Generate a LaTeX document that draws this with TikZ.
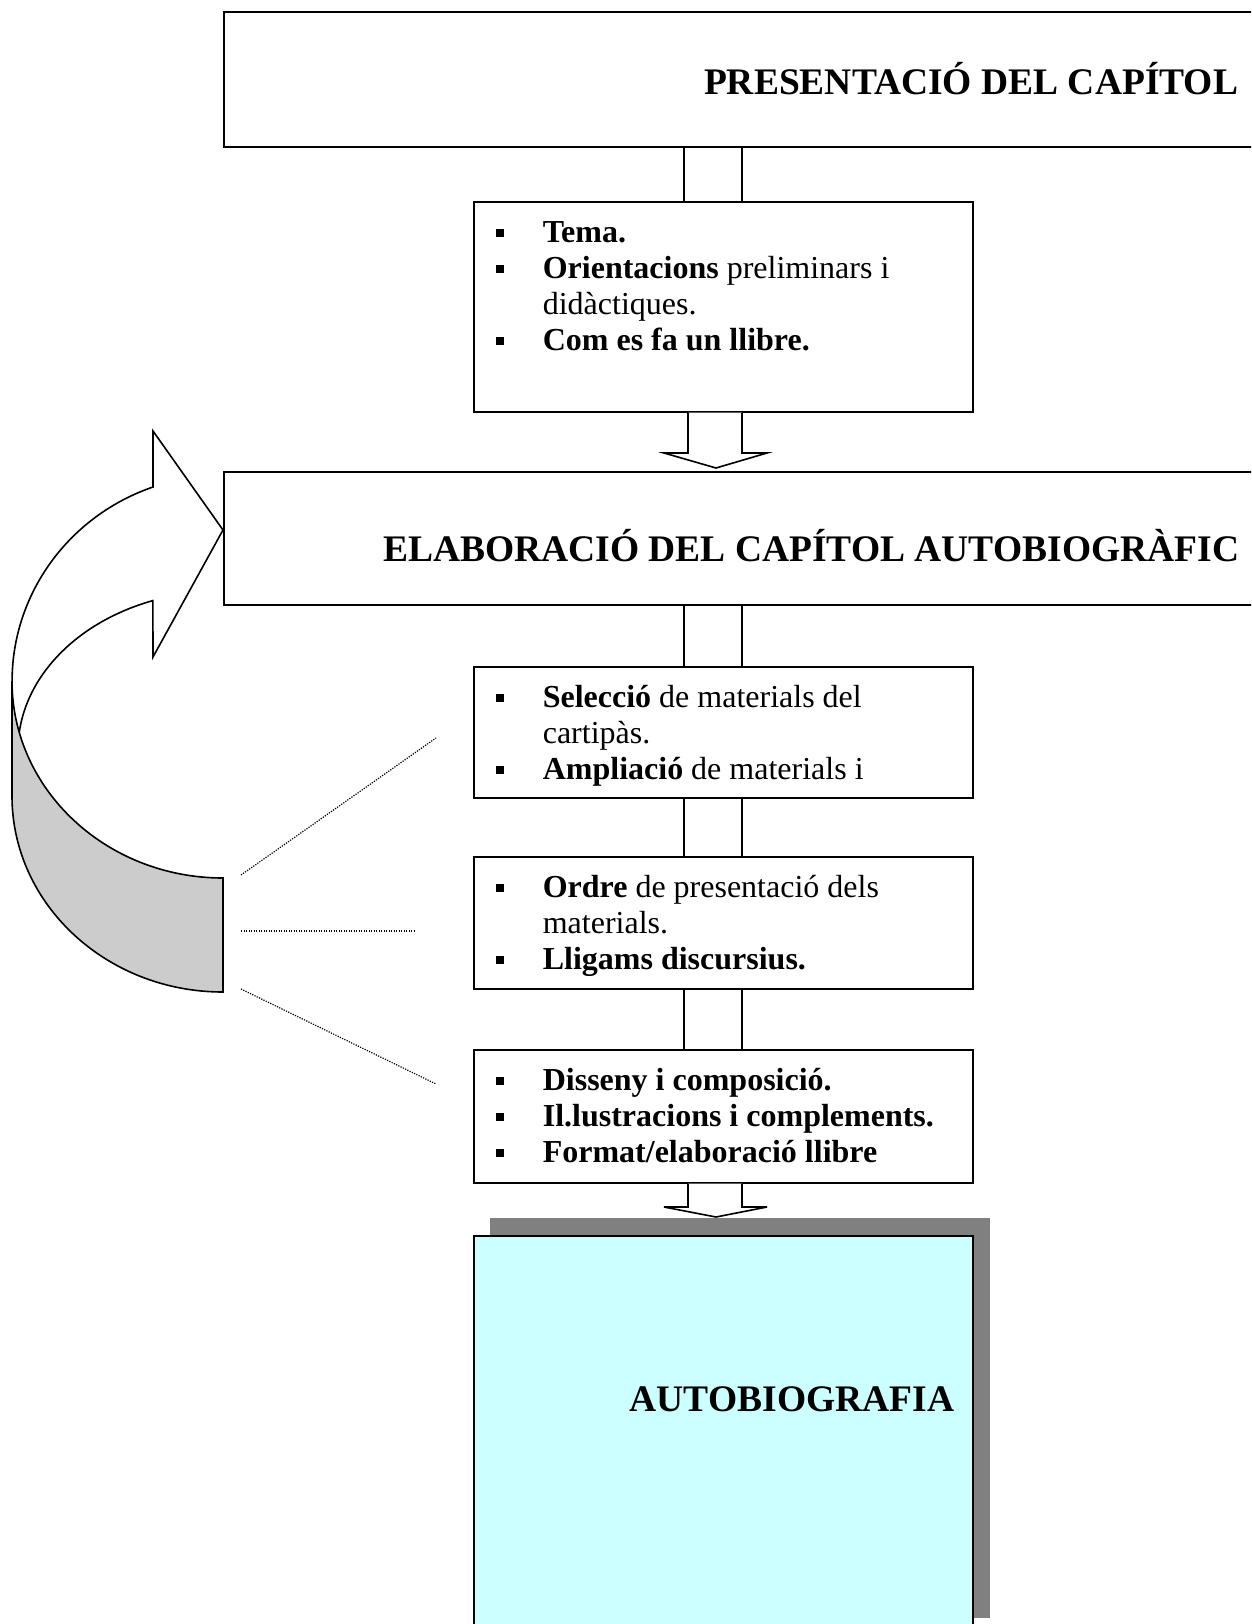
\documentclass[tikz,border=0pt]{standalone}
\usepackage{fontspec}
\setmainfont{Liberation Serif}
\usetikzlibrary{calc}
\definecolor{paleCyan}{RGB}{204,255,255}
\newcommand{\itm}[1]{\par\noindent\hangindent=47pt\hangafter=1\strut\makebox[47pt][l]{\rule[5.5pt]{8.5pt}{8.5pt}}#1}

\begin{document}
\begin{tikzpicture}[x=1pt,y=-1pt,line width=1.6pt,
  box/.style={draw,fill=white,anchor=north west,inner sep=0pt},
  items/.style={anchor=north west,inner sep=0pt,text width=470pt,align=flush left,font=\fontsize{32}{36}\selectfont},
  title/.style={inner sep=0pt,font=\fontsize{37.5}{40}\selectfont\bfseries},
  dotline/.style={line width=1.2pt,dash pattern=on 1.2pt off 1.3pt}]
\useasboundingbox (0,0) rectangle (1251,1624);
\clip (0,0) rectangle (1251,1624);
\coordinate (ax) at (714,0);
% --- chapter boxes ---
\node[box,minimum width=1100pt,minimum height=135pt] (pres) at (223,11) {};
\node[title,anchor=base east] (prestxt) at (1239,95) {PRESENTACIÓ DEL CAPÍTOL};
\node[box,minimum width=499pt,minimum height=210pt] (b1) at (473,201) {};
\node[items] (b1txt) at ($(b1.north west)+(22,5)$) {%
  \itm{\textbf{Tema.}}
  \itm{\textbf{Orientacions} preliminars i\newline didàctiques.}
  \itm{\textbf{Com es fa un llibre.}}};
\node[box,minimum width=1100pt,minimum height=133pt] (elab) at (223,471) {};
\node[title,anchor=base east] (elabtxt) at (1240,561) {ELABORACIÓ DEL CAPÍTOL AUTOBIOGRÀFIC};
% --- steps ---
\node[box,minimum width=499pt,minimum height=131pt] (b2) at (473,666) {};
\node[items] (b2txt) at ($(b2.north west)+(22,5)$) {%
  \itm{\textbf{Selecció} de materials del\newline cartipàs.}
  \itm{\textbf{Ampliació} de materials i}};
\node[box,minimum width=499pt,minimum height=132pt] (b3) at (473,856) {};
\node[items] (b3txt) at ($(b3.north west)+(22,5)$) {%
  \itm{\textbf{Ordre} de presentació dels\newline materials.}
  \itm{\textbf{Lligams discursius.}}};
\node[box,minimum width=499pt,minimum height=133pt] (b4) at (473,1049) {};
\node[items] (b4txt) at ($(b4.north west)+(22,5)$) {%
  \itm{\textbf{Disseny i composició.}}
  \itm{\textbf{Il.lustracions i complements.}}
  \itm{\textbf{Format/elaboració llibre}}};
% --- result ---
\node[anchor=north west,fill=black!50,inner sep=0pt,minimum width=500pt,minimum height=400pt] (shade) at (489,1217) {};
\node[box,fill=paleCyan,minimum width=499pt,minimum height=400pt] (auto) at (473,1235) {};
\node[title,anchor=base west] (autotxt) at (629,1411) {AUTOBIOGRAFIA};
% --- double rails between boxes ---
\foreach \a/\b in {pres/b1,elab/b2,b2/b3,b3/b4}
  \foreach \dx in {-30,28}
    \draw ($(\a.south -| ax)+(\dx,0)$) -- ($(\b.north -| ax)+(\dx,0)$);
% --- hollow arrows ---
\draw[fill=white] ($(b1.south -| ax)+(-26,0)$) |- ($(elab.north -| ax)+(-50,-18)$)
  -- ($(elab.north -| ax)+(2,-3)$) -- ($(elab.north -| ax)+(53,-18)$) -| ($(b1.south -| ax)+(28,0)$);
\draw[fill=white] ($(b4.south -| ax)+(-26,0)$) |- ($(shade.north -| ax)+(-50,-10)$)
  -- ($(shade.north -| ax)+(2,0)$) -- ($(shade.north -| ax)+(53,-10)$) -| ($(b4.south -| ax)+(28,0)$);
% --- curved return arrow ---
\draw[fill=white] (153,487) arc[start angle=250.6,end angle=180,x radius=211,y radius=206]
  -- (12,750) -- (18,750) arc[start angle=180,end angle=250,x radius=205,y radius=159]
  -- (153,657) -- (223,530) -- (153,431) -- cycle;
\draw[fill=black!20] (12,681) -- (12,796) arc[start angle=180,end angle=90,x radius=211,y radius=196]
  -- (223,878) arc[start angle=90,end angle=180,x radius=211,y radius=197] -- cycle;
% --- dotted guides ---
\coordinate (g1) at (241,875); \coordinate (h1) at (436,738);
\coordinate (g2) at (241,931); \coordinate (h2) at (415,931);
\coordinate (g3) at (241,989); \coordinate (h3) at (436,1084);
\draw[dotline] (g1) -- (h1);
\draw[dotline] (g2) -- (h2);
\draw[dotline] (g3) -- (h3);
\end{tikzpicture}
\end{document}
